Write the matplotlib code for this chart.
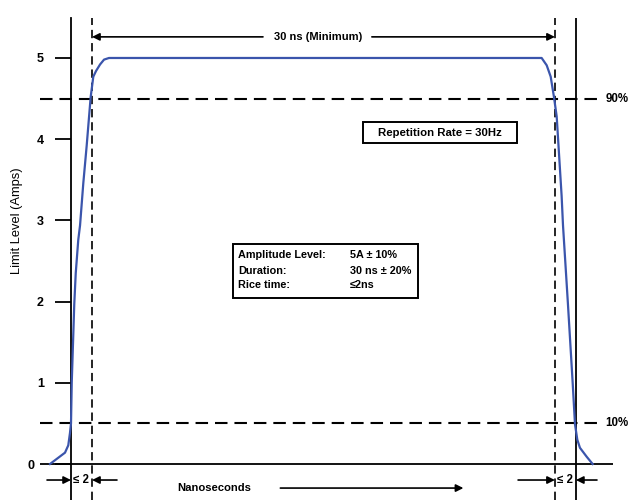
import matplotlib.pyplot as plt
from matplotlib.patches import Rectangle

plt.rcParams['font.family'] = ['Liberation Sans', 'DejaVu Sans']
plt.rcParams['lines.scale_dashes'] = False

# pulse shape, time in ns, current in amps
rise_t = [-2.00, -0.57, -0.26, -0.10, 0.00, 0.07, 0.31, 0.45, 0.69, 0.86,
          1.17, 1.49, 1.87, 2.12, 2.38, 2.76, 3.14, 3.61]
rise_a = [0.00, 0.14, 0.23, 0.38, 0.50, 1.00, 1.97, 2.35, 2.76, 2.94,
          3.46, 3.92, 4.52, 4.77, 4.84, 4.92, 4.98, 5.00]
fall_t = [44.74, 45.22, 45.60, 45.91, 46.17, 46.64, 46.77, 47.24, 47.69,
          47.91, 48.13, 48.38, 49.02, 49.59]
fall_a = [5.00, 4.91, 4.77, 4.52, 4.28, 3.30, 2.94, 1.97, 1.00,
          0.49, 0.30, 0.20, 0.09, 0.00]

pulse_t = rise_t + fall_t
pulse_a = rise_a + fall_a

y_ticks = [0, 1, 2, 3, 4, 5]
level_90 = 4.5
level_10 = 0.5
t_start, t_min_end = 2, 46       # 30 ns (minimum) window
t_axis, t_end = 0, 48            # outer bounds, rise/fall <= 2 ns

specs = [("Amplitude Level:", "5A \u00b1 10%"),
         ("Duration:", "30 ns \u00b1 20%"),
         ("Rice time:", "\u22642ns")]

fig = plt.figure(figsize=(6.4, 5.0), dpi=100)
ax = fig.add_axes([0, 0, 1, 1])
ax.set_xlim(-6.75, 54.09)
ax.set_ylim(-0.443, 5.714)

top = 5.49
ax.plot(pulse_t, pulse_a, color='#3b55ac', lw=1.6, zorder=5)

# left axis line with ticks
for s in ['top', 'right', 'bottom']:
    ax.spines[s].set_visible(False)
ax.spines['left'].set_position(('data', t_axis))
ax.spines['left'].set_bounds(-0.443, top)
ax.spines['left'].set_linewidth(1.3)
ax.set_xticks([])
ax.set_yticks(y_ticks)
ax.tick_params(axis='y', direction='out', length=11.5, width=1.3, pad=8,
               labelsize=9)
for lab in ax.get_yticklabels():
    lab.set_fontweight('bold')
ax.yaxis.get_major_ticks()[0].set_pad(14.5)
ax.text(-5.13, 3.0, "Limit Level (Amps)", fontsize=9.3, rotation=90,
        ha='center', va='center')

# baseline and right bound
ax.hlines(0, -2.95, 51.5, color='black', lw=1.3)
ax.vlines(t_end, -0.443, top, color='black', lw=1.3)

# dashed guides
for t in [t_start, t_min_end]:
    ax.vlines(t, -0.443, top, color='black', lw=1.2, linestyles=(0, (6, 3.5)))
for lvl, txt in [(level_90, "90%"), (level_10, "10%")]:
    ax.hlines(lvl, -2.95, 50.1, color='black', lw=1.5, linestyles=(0, (9, 5)))
    ax.text(50.8, lvl, txt, fontsize=8.3, fontweight='bold', va='center', ha='left')

arrow = dict(arrowstyle='-|>', color='black', lw=1.2, mutation_scale=11,
             shrinkA=0, shrinkB=0)

# 30 ns window
ya = 5.26
ax.text(23.5, ya, "30 ns (Minimum)", fontsize=8.0, fontweight='bold',
        ha='center', va='center')
ax.annotate("", xy=(t_start, ya), xytext=(18.25, ya), arrowprops=arrow)
ax.annotate("", xy=(t_min_end, ya), xytext=(28.6, ya), arrowprops=arrow)

# rise / fall time markers
yb = -0.197
ax.annotate("", xy=(t_axis, yb), xytext=(-2.28, yb), arrowprops=arrow)
ax.annotate("", xy=(t_start, yb), xytext=(4.37, yb), arrowprops=arrow)
ax.text(0.95, yb, "\u2264 2", fontsize=8.3, fontweight='bold', ha='center', va='center')
ax.annotate("", xy=(t_min_end, yb), xytext=(42.5, yb), arrowprops=arrow)
ax.annotate("", xy=(t_end, yb), xytext=(50.0, yb), arrowprops=arrow)
ax.text(47.0, yb, "\u2264 2", fontsize=8.3, fontweight='bold', ha='center', va='center')

# time axis caption
yn = -0.296
ax.text(13.6, yn, "Nanoseconds", fontsize=8.1, fontweight='bold',
        ha='center', va='center')
ax.annotate("", xy=(37.3, yn), xytext=(19.9, yn), arrowprops=arrow)

# repetition rate box
ax.add_patch(Rectangle((27.75, 3.95), 42.4 - 27.75, 4.21 - 3.95,
                       fill=False, ec='black', lw=1.4))
ax.text(35.1, 4.08, "Repetition Rate = 30Hz", fontsize=8.2, fontweight='bold',
        ha='center', va='center')

# spec box
ax.add_patch(Rectangle((15.37, 2.04), 32.98 - 15.37, 2.71 - 2.04,
                       fill=False, ec='black', lw=1.4))
for (name, val), yy in zip(specs, [2.57, 2.38, 2.20]):
    ax.text(15.9, yy, name, fontsize=7.8, fontweight='bold', ha='left', va='center')
    ax.text(26.5, yy, val, fontsize=7.8, fontweight='bold', ha='left', va='center')

fig.savefig("out.png", dpi=100)
